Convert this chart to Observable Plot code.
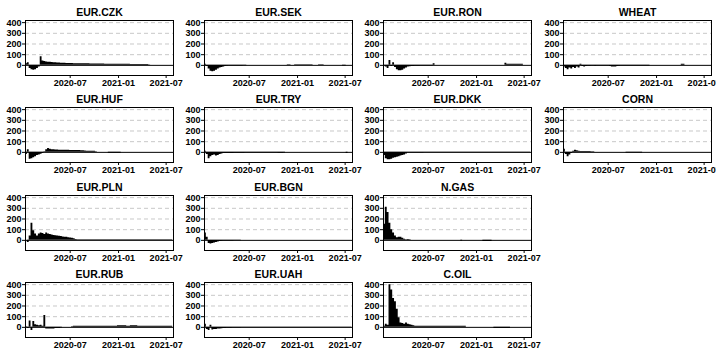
<!DOCTYPE html>
<html>
<head>
<meta charset="utf-8">
<script src="https://cdn.jsdelivr.net/npm/d3@7"></script>
<script src="https://cdn.jsdelivr.net/npm/@observablehq/plot@0.6"></script>
<style>
  html, body { margin: 0; padding: 0; background: #fff; }
  #chart { position: relative; width: 716px; height: 351px; background: #fff; overflow: hidden; }
  #chart svg { position: absolute; overflow: visible; }
</style>
</head>
<body>
<div id="chart"></div>
<script>
// ---- data (weekly values starting 2020-01-13) ----
const startDate = "2020-01-13";
const titles = ["EUR.CZK","EUR.SEK","EUR.RON","WHEAT","EUR.HUF","EUR.TRY","EUR.DKK","CORN","EUR.PLN","EUR.BGN","N.GAS","EUR.RUB","EUR.UAH","C.OIL"];
const panelCols = [0,1,2,3, 0,1,2,3, 0,1,2, 0,1,2];
const panelRows = [0,0,0,0, 1,1,1,1, 2,2,2, 3,3,3];
const xTicks = ["2020-07-01","2021-01-01","2021-07-01"];
const yTicks = [0,100,200,300,400];

const czk = [15,25,-30,-40,-45,-40,-30,-15,80,40, 35,32,30,28,27,25,24,22,22,20, 20,19,18,18,17,17,16,16,15,15, 15,15,14,14,14,13,13,13,13,12, 12,12,12,11,11,11,10,10,10,10, 10,10,10,10,10,10,10,9,9,9, 9,9,9,9,9,9,8,3,2,2, 2,2,2,2,2,2,2,2,2,2,2];
const sek = [10,-10,-35,-55,-60,-55,-45,-35,-25,-20, -15,-10,-8,-7,-7,-6,-6,-5,-5,-5, -5,-4,-3,0,0,0,0,0,0,0, 0,0,0,0,0,0,0,0,0,0, 0,0,0,0,0,5,5,0,0,5, 5,5,5,5,5,5,5,5,5,0, 0,0,5,5,5,0,0,0,0,0, 0,0,0,0,0,-5,-5,0,0,0,0];
const ron = [-5,-15,-30,45,-10,25,-20,-40,-50,-50, -45,-35,-25,-15,-12,-10,-10,-8,-8,-8, -7,-7,-6,-6,-6,-5,-5,15,0,0, 0,0,0,0,0,0,0,0,0,0, 0,0,0,0,0,0,0,0,0,0, 0,0,0,0,0,0,0,0,0,0, 0,0,0,0,0,0,20,10,10,10, 10,10,10,10,10,10,0,0,0,0,0];
const wheat = [-15,-30,-40,-25,-35,-20,-30,-15,-25,10, -10,-15,-10,-8,-8,-5,-5,-8,-5,-5, -5,-5,-5,-5,-5,-10,-15,-15,-15,-10, -8,-5,-5,-5,-5,-5,-5,-5,-5,-5, -5,-5,-5,-5,-5,-5,-5,0,0,0, 0,0,0,0,0,0,0,0,0,0, 0,0,0,0,10,10,0,0,0,0, 0,0,0,0,0,0,0,0,0,0,0];
const huf = [-20,25,-65,-60,-50,-40,-30,-25,-18,-10, 5,25,35,30,25,25,22,22,20,20, 20,20,20,20,18,18,18,18,18,18, 15,15,12,10,10,10,10,10,5,0, 0,0,0,0,0,-8,-8,-8,-8,-8, -8,-8,0,0,0,0,0,0,0,0, 0,0,0,0,0,0,0,0,0,0, 0,0,0,0,0,0,0,0,0,0,0];
const tryl = [10,-20,-60,-40,-30,-25,-35,-30,-20,-15, -10,-10,-10,-10,-10,-10,-8,-8,-8,-8, -8,-8,-5,-5,-5,-5,-5,-5,-5,-5, -5,-5,-5,-5,-5,-5,-5,-5,-5,-5, -8,-8,-8,-5,0,0,0,0,0,0, 0,0,0,0,0,0,0,0,0,0, 0,0,0,0,0,0,0,0,0,0, 0,0,0,0,0,0,0,-10,0,0,0];
const dkk = [-30,-60,-70,-70,-65,-55,-50,-45,-40,-35, -30,-25,-15,-5,-5,-5,-5,-5,-5,-5, -5,-5,-4,-4,-4,-4,-4,-4,-4,-4, -3,-3,-3,-3,-3,-3,-3,-3,-3,-3, -3,-3,-3,-3,-3,-3,-3,-3,-3,-3, -3,-3,-3,-3,-3,-3,-3,-3,-3,-3, -3,-3,-3,-3,-3,-3,-3,-3,-3,-3, -3,-3,-3,-3,-3,-3,-3,-3,-3,-3,-3];
const corn = [30,-20,-40,-25,-10,10,20,15,10,8, 8,8,8,8,8,5,5,0,0,0, 0,0,0,0,0,0,0,0,0,0, 0,0,0,0,-5,-5,-5,-5,-5,-5, -5,-5,-5,0,0,0,0,0,0,0, 0,0,0,0,0,0,0,0,0,0, 0,0,0,0,0,0,0,0,0,0, 0,0,0,0,0,0,0,0,0,0,0];
const pln = [0,-20,40,160,90,60,40,60,70,65, 55,70,60,55,50,45,42,40,38,35, 32,30,28,25,22,20,15,8,5,5, 5,5,5,5,5,5,5,5,5,5, 5,5,5,5,5,5,5,5,5,5, 5,5,5,5,5,5,5,5,5,5, 5,5,5,5,5,5,5,5,5,5, 5,5,5,5,5,5,5,5,5,5,5];
const bgn = [70,30,-30,-35,-30,-25,-20,-15,-10,-8, -5,-5,-5,-5,-5,-5,-3,-3,-3,-3, 0,0,0,0,0,0,0,0,0,0, 0,0,0,0,0,0,0,0,0,0, 0,0,0,0,0,0,0,0,0,0, 0,0,0,0,0,0,0,0,0,0, 0,0,0,0,0,0,0,0,0,0, 0,0,0,0,0,0,0,0,0,0,0];
const ngas = [150,310,260,160,100,70,40,25,30,30, 20,10,5,8,5,0,0,0,0,0, 0,0,0,0,0,0,0,0,0,0, 0,0,0,0,0,0,0,0,0,0, 0,0,-5,0,0,0,0,0,0,0, 0,0,0,0,-10,-10,-10,-10,-10,0, 0,0,0,0,0,0,0,0,0,0, 0,0,0,0,0,0,0,0,0,0,0];
const rub = [5,-10,60,-30,55,25,20,15,20,10, 110,-15,-15,-15,-15,-15,-10,-10,-10,-5, 0,0,0,0,0,5,10,10,10,10, 10,10,10,10,10,10,10,10,10,10, 10,10,10,10,10,10,10,10,10,10, 15,15,15,15,15,10,10,15,15,15, 15,10,10,10,10,10,10,10,10,10, 10,10,10,10,10,10,10,10,10,10,10];
const uah = [30,-20,-30,20,-25,-20,-20,-15,-15,-12, -10,-10,-8,-8,-8,-5,-5,-5,-5,-5, -3,-3,-3,-3,-3,-3,-3,-3,-3,-3, -3,-3,-3,-3,-3,-3,-3,-3,-3,-3, -3,-3,-3,-3,-3,-3,-3,-3,-3,-3, -3,-3,-3,-3,-3,-3,-3,-3,-3,-3, -3,-3,-3,-3,-3,-3,-3,-3,-3,-3, -3,-3,-3,-3,-3,-3,-3,-3,-3,-3,-3];
const coil = [10,30,20,400,350,270,240,170,90,40, 35,30,40,30,25,20,15,10,10,10, 10,10,10,10,10,10,10,10,10,10, 10,10,10,10,10,10,10,10,10,10, 10,10,10,10,10,0,0,0,0,0, 0,0,0,0,0,0,0,0,0,0, -10,-10,-10,-10,-10,-10,-10,-10,-10,0, 0,0,0,0,0,0,0,0,0,0,0];

const seriesValues = [czk, sek, ron, wheat, huf, tryl, dkk, corn, pln, bgn, ngas, rub, uah, coil];

// ---- layout ----
const colX = [0, 179, 358, 538];
const rowY = [0, 87, 175, 262];
const W = 179, H = 87;

const start = new Date(startDate);
const weeks = seriesValues[0].map((_, i) => d3.utcDay.offset(start, 7 * i));
const xDomain = [new Date("2020-01-13"), new Date("2021-07-29")];
const yDomain = [-95, 420];

const container = document.getElementById("chart");

titles.forEach((title, k) => {
  const data = seriesValues[k].map((v, i) => ({date: weeks[i], v}));
  const svg = Plot.plot({
    width: W,
    height: H,
    marginLeft: 25,
    marginRight: 6,
    marginTop: 20,
    marginBottom: 12,
    style: {fontFamily: "'Liberation Sans', Arial, sans-serif", fontSize: "9px", fontWeight: "bold", color: "#000", background: "transparent", overflow: "visible"},
    x: {type: "utc", domain: xDomain, ticks: xTicks.map(d => new Date(d)), tickFormat: d3.utcFormat("%Y-%m"), tickSize: 3, tickPadding: 1, label: null},
    y: {domain: yDomain, ticks: yTicks, tickSize: 3, tickPadding: 1, label: null},
    marks: [
      Plot.ruleY(yTicks.filter(t => t > 0), {stroke: "#c8c8c8", strokeDasharray: "4,3", strokeWidth: 1}),
      Plot.areaY(data, {x: "date", y: "v", curve: "step-after", fill: "#000", clip: true}),
      Plot.ruleY([0], {stroke: "#000", strokeWidth: 1}),
      Plot.frame({stroke: "#000", strokeWidth: 1}),
      Plot.text([title], {frameAnchor: "top", dy: -8, lineAnchor: "middle", fontSize: 10.5, fontWeight: "bold", fill: "#000"})
    ]
  });
  svg.style.left = colX[panelCols[k]] + "px";
  svg.style.top = rowY[panelRows[k]] + "px";
  container.appendChild(svg);
});
</script>
</body>
</html>
